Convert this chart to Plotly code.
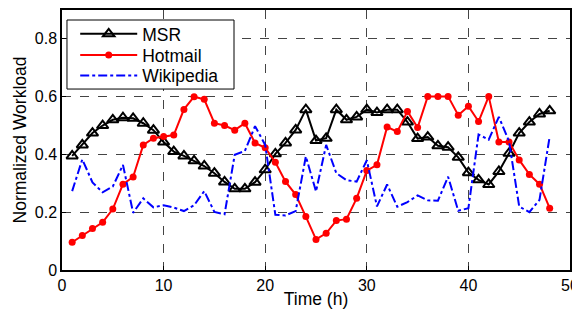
import plotly.graph_objects as go

hours = list(range(1, 49))

msr = [0.395, 0.433, 0.474, 0.500, 0.520, 0.527, 0.525, 0.508, 0.484, 0.443,
       0.410, 0.395, 0.378, 0.360, 0.335, 0.305, 0.281, 0.281, 0.304, 0.347,
       0.402, 0.440, 0.485, 0.555, 0.448, 0.456, 0.555, 0.520, 0.530, 0.555,
       0.545, 0.555, 0.555, 0.512, 0.455, 0.460, 0.430, 0.425, 0.390, 0.337,
       0.312, 0.296, 0.341, 0.404, 0.474, 0.512, 0.540, 0.551]

hotmail = [0.096, 0.119, 0.144, 0.165, 0.211, 0.297, 0.322, 0.433, 0.456, 0.462,
           0.467, 0.556, 0.600, 0.591, 0.508, 0.500, 0.484, 0.508, 0.440, 0.423,
           0.373, 0.306, 0.261, 0.185, 0.106, 0.127, 0.171, 0.176, 0.248, 0.344,
           0.364, 0.495, 0.479, 0.549, 0.493, 0.601, 0.601, 0.601, 0.536, 0.567,
           0.514, 0.601, 0.443, 0.443, 0.381, 0.331, 0.297, 0.214]

wikipedia = [0.273, 0.383, 0.303, 0.269, 0.289, 0.364, 0.198, 0.248, 0.217, 0.224,
             0.216, 0.204, 0.224, 0.273, 0.201, 0.193, 0.399, 0.412, 0.498, 0.433,
             0.191, 0.189, 0.204, 0.393, 0.272, 0.433, 0.335, 0.311, 0.306, 0.380,
             0.220, 0.296, 0.219, 0.235, 0.258, 0.241, 0.240, 0.323, 0.205, 0.214,
             0.469, 0.451, 0.530, 0.445, 0.220, 0.200, 0.243, 0.462]

x_ticks = [0, 10, 20, 30, 40, 50]
y_ticks = [0, 0.2, 0.4, 0.6, 0.8]
y_tick_labels = ["0", "0.2", "0.4", "0.6", "0.8"]

FONT = "Liberation Sans, Arial, sans-serif"

fig = go.Figure()
fig.add_trace(go.Scatter(
    x=hours, y=msr, name="MSR", mode="lines+markers", legend="legend",
    line=dict(color="black", width=2),
    marker=dict(symbol="triangle-up-open", size=10, color="black",
                line=dict(width=2, color="black")),
))
fig.add_trace(go.Scatter(
    x=hours, y=hotmail, name="Hotmail", mode="lines+markers", legend="legend2",
    line=dict(color="#ff0000", width=2),
    marker=dict(symbol="circle", size=7, color="#ff0000"),
))
fig.add_trace(go.Scatter(
    x=hours, y=wikipedia, name="Wikipedia", mode="lines", legend="legend3",
    line=dict(color="#0000ff", width=2, dash="dashdot"),
))

axis_common = dict(
    showline=True, linecolor="black", linewidth=1.5, mirror=True,
    ticks="inside", ticklen=4, tickcolor="black",
    showgrid=True, gridcolor="#444", gridwidth=1, griddash="dash",
    zeroline=False, automargin=False,
    tickfont=dict(family=FONT, size=16, color="black"),
)

fig.update_xaxes(
    range=[0, 50], tickvals=x_ticks,
    title=dict(text="Time (h)", font=dict(family=FONT, size=17.5, color="black"), standoff=0),
    **axis_common,
)
fig.update_yaxes(
    range=[0, 0.9], tickvals=y_ticks, ticktext=y_tick_labels,
    title=dict(text="Normalized Workload", font=dict(family=FONT, size=17.5, color="black"), standoff=4),
    **axis_common,
)

# legend frame (white box with black border, drawn above the data)
fig.add_shape(
    type="rect", xref="paper", yref="paper",
    x0=0.0098, x1=0.3386, y0=0.696, y1=0.9615,
    fillcolor="white", line=dict(color="black", width=1), layer="above",
)

legend_common = dict(
    x=0.026, xanchor="left", yanchor="middle",
    bgcolor="rgba(0,0,0,0)", borderwidth=0,
    font=dict(family=FONT, size=17.5, color="black"),
    itemwidth=57, tracegroupgap=0,
)

# The page body adds an 8 px margin, so the figure is 8 px smaller than the window.
fig.update_layout(
    width=572, height=301,
    margin=dict(l=54, r=10, t=2, b=39),
    paper_bgcolor="white", plot_bgcolor="white",
    font=dict(family=FONT, color="black"),
    legend=dict(y=0.9077, **legend_common),
    legend2=dict(y=0.8269, **legend_common),
    legend3=dict(y=0.748, **legend_common),
    showlegend=True,
)

fig.write_html("out.html")
